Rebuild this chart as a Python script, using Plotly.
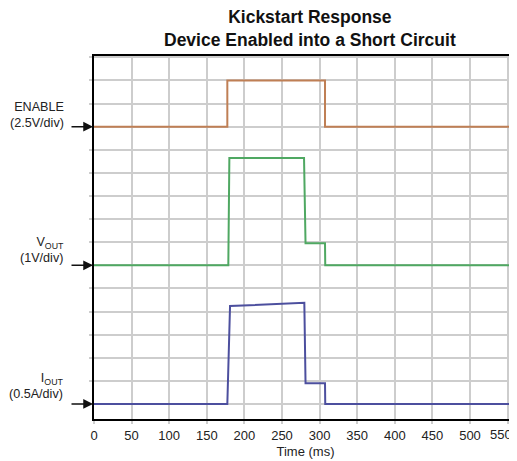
import plotly.graph_objects as go

# ---- data ----
x_ticks = [0, 50, 100, 150, 200, 250, 300, 350, 400, 450, 500, 550]
x_tick_labels = ["0", "50", "100", "150", "200", "250", "300", "350", "400", "450", "500", "550"]

enable_t = [0, 177.3, 177.3, 307.2, 307.2, 562.5]
enable_v = [0, 0, 5.0, 5.0, 0, 0]            # volts, 2.5 V/div

vout_t = [0, 178.6, 180.0, 279.3, 281.3, 307.2, 307.5, 562.5]
vout_v = [0, 0, 4.65, 4.65, 0.96, 0.96, 0, 0]  # volts, 1 V/div

iout_t = [0, 177.3, 180.9, 230, 279.7, 281.3, 307.2, 307.5, 562.5]
iout_a = [0, 0, 2.12, 2.16, 2.19, 0.45, 0.45, 0, 0]  # amps, 0.5 A/div

trig_t = [278, 307]

# channel scaling: (offset in divisions, units per division)
ENABLE_OFF, ENABLE_SCALE = 12, 2.5
VOUT_OFF, VOUT_SCALE = 6, 1.0
IOUT_OFF, IOUT_SCALE = 0, 0.5
Y_MIN, Y_MAX = -0.65, 15.06

FONT = "Liberation Sans, Arial, sans-serif"

# page body has an 8px margin, so the figure is drawn 8px smaller/offset
W, H = 509, 453
ML, MT, MB, MR = 86, 48, 42, 0
PLOT_W = W - ML - MR
PLOT_H = H - MT - MB

def to_div(vals, off, scale):
    return [off + v / scale for v in vals]

fig = go.Figure()
fig.add_trace(go.Scatter(x=enable_t, y=to_div(enable_v, ENABLE_OFF, ENABLE_SCALE),
                         mode="lines", line=dict(color="#bf7f55", width=2), name="ENABLE"))
fig.add_trace(go.Scatter(x=vout_t, y=to_div(vout_v, VOUT_OFF, VOUT_SCALE),
                         mode="lines", line=dict(color="#4fa862", width=2), name="VOUT"))
fig.add_trace(go.Scatter(x=iout_t, y=to_div(iout_a, IOUT_OFF, IOUT_SCALE),
                         mode="lines", line=dict(color="#4c4f9e", width=2), name="IOUT"))
fig.add_trace(go.Scatter(x=trig_t, y=[Y_MAX + 0.05] * len(trig_t), mode="lines",
                         line=dict(color="#e8787a", width=2), cliponaxis=False, name="trig"))

label_x = -29.5 / PLOT_W

labels = [
    ("ENABLE<br>(2.5V/div)", ENABLE_OFF, 12),
    ("V<sub>OUT</sub><br>(1V/div)", VOUT_OFF, 15),
    ("I<sub>OUT</sub><br>(0.5A/div)", IOUT_OFF, 18),
]
for txt, yb, ys in labels:
    fig.add_annotation(x=label_x, xref="paper", y=yb, yref="y", text=txt, showarrow=False,
                       xanchor="right", yanchor="middle", align="right", yshift=ys,
                       borderpad=0,
                       font=dict(family=FONT, size=12.6, color="#222"))
    fig.add_annotation(x=0, xref="x", y=yb, yref="y", text="", showarrow=True,
                       ax=-24, ay=0, axref="pixel", ayref="pixel",
                       arrowhead=2, arrowsize=1.3, arrowwidth=1.5, arrowcolor="#111",
                       standoff=1)

# title as an annotation centred ~20px from the top of the figure
fig.add_annotation(x=(302 - ML) / PLOT_W, xref="paper", y=1 + (MT - 20) / PLOT_H, yref="paper",
                   text="<b>Kickstart Response<br>Device Enabled into a Short Circuit</b>",
                   showarrow=False, xanchor="center", yanchor="middle", align="center",
                   font=dict(family=FONT, size=17.5, color="#111"))

# the last tick label sits slightly left of its gridline (as in the reference)
shown_ticks = [t if i < len(x_ticks) - 1 else "" for i, t in enumerate(x_tick_labels)]
fig.add_annotation(x=x_ticks[-1], xref="x", y=0, yref="paper", text=x_tick_labels[-1],
                   showarrow=False, xanchor="center", yanchor="middle", xshift=-7, yshift=-15,
                   font=dict(family=FONT, size=13, color="#222"))

fig.update_layout(
    width=W, height=H,
    margin=dict(l=ML, r=MR, t=MT, b=MB, autoexpand=False),
    paper_bgcolor="white", plot_bgcolor="white",
    showlegend=False,
    font=dict(family=FONT, size=13, color="#222"),
)
fig.update_xaxes(range=[0, 562.5], tickvals=x_ticks, ticktext=shown_ticks,
                 showgrid=True, gridcolor="#cdcdcd", gridwidth=1.5,
                 showline=True, linecolor="black", linewidth=2, mirror=True,
                 ticks="outside", ticklen=3, tickcolor="#cdcdcd", tickwidth=1.5,
                 zeroline=False,
                 title=dict(text="Time (ms)", standoff=5, font=dict(size=13)),
                 tickfont=dict(size=13))
fig.update_yaxes(range=[Y_MIN, Y_MAX], tickvals=list(range(0, 16)), showticklabels=False,
                 showgrid=True, gridcolor="#cdcdcd", gridwidth=1.5,
                 showline=True, linecolor="black", linewidth=2, mirror=False,
                 ticks="outside", ticklen=3, tickcolor="#cdcdcd", tickwidth=1.5,
                 zeroline=False)

fig.write_html("out.html")
